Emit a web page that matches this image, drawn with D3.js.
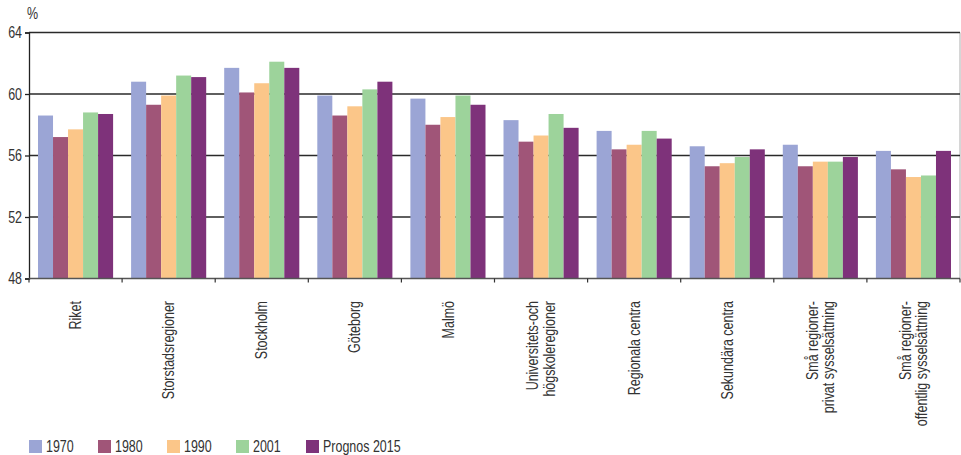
<!DOCTYPE html>
<html>
<head>
<meta charset="utf-8">
<script src="https://cdn.jsdelivr.net/npm/d3@7"></script>
<style>
  html, body { margin: 0; padding: 0; background: #fff; }
  svg text { font-family: "Liberation Sans", Arial, sans-serif; fill: #333; }
</style>
</head>
<body>
<svg id="chart" width="961" height="455"></svg>
<script>
// Regions (each label may be split over several lines)
const categories = [
  ["Riket"],
  ["Storstadsregioner"],
  ["Stockholm"],
  ["Göteborg"],
  ["Malmö"],
  ["Universitets-och", "högskoleregioner"],
  ["Regionala centra"],
  ["Sekundära centra"],
  ["Små regioner-", "privat sysselsättning"],
  ["Små regioner-", "offentlig sysselsättning"]
];
const seriesNames = ["1970", "1980", "1990", "2001", "Prognos 2015"];
const seriesColors = ["#9ba5d5", "#a05578", "#fbc689", "#9dd39b", "#7e327a"];

// Share in percent, one array per series, in category order
const v1970 = [58.6, 60.8, 61.7, 59.9, 59.7, 58.3, 57.6, 56.6, 56.7, 56.3];
const v1980 = [57.2, 59.3, 60.1, 58.6, 58.0, 56.9, 56.4, 55.3, 55.3, 55.1];
const v1990 = [57.7, 59.9, 60.7, 59.2, 58.5, 57.3, 56.7, 55.5, 55.6, 54.6];
const v2001 = [58.8, 61.2, 62.1, 60.3, 59.9, 58.7, 57.6, 55.9, 55.6, 54.7];
const v2015 = [58.7, 61.1, 61.7, 60.8, 59.3, 57.8, 57.1, 56.4, 55.9, 56.3];
const seriesValues = [v1970, v1980, v1990, v2001, v2015];

const yTicks = [48, 52, 56, 60, 64];

// Condensed look: a regular sans squeezed horizontally
const FS = 16, SQ = 0.78;

const svg = d3.select("#chart");
const plotLeft = 29, plotRight = 960, plotTop = 32.5, plotBottom = 278.5;

const x0 = d3.scaleBand().domain(d3.range(categories.length)).range([plotLeft, plotRight]).paddingInner(0).paddingOuter(0);
const x1 = d3.scaleBand().domain(d3.range(seriesNames.length)).range([9, x0.bandwidth() - 9]).padding(0);
const y = d3.scaleLinear().domain([48, 64]).range([plotBottom, plotTop]);

// Right border
svg.append("line").attr("x1", plotRight).attr("x2", plotRight).attr("y1", plotTop).attr("y2", plotBottom)
  .attr("stroke", "#bbb").attr("stroke-width", 1.2);

// Horizontal grid lines
svg.append("g").selectAll("line").data(yTicks.filter(t => t > 48)).join("line")
  .attr("x1", plotLeft).attr("x2", plotRight)
  .attr("y1", d => y(d)).attr("y2", d => y(d))
  .attr("stroke", "#2a2a2a").attr("stroke-width", 1.6);

// Bars
const groups = svg.append("g").selectAll("g").data(categories).join("g")
  .attr("transform", (d, i) => `translate(${x0(i)},0)`);
groups.selectAll("rect").data((d, i) => seriesValues.map((s, k) => ({ k, v: s[i] }))).join("rect")
  .attr("x", d => x1(d.k))
  .attr("width", x1.bandwidth())
  .attr("y", d => y(d.v))
  .attr("height", d => y(48) - y(d.v))
  .attr("fill", d => seriesColors[d.k]);

// Y axis
const yAxis = svg.append("g").attr("transform", `translate(${plotLeft},0)`)
  .call(d3.axisLeft(y).tickValues(yTicks).tickSize(4).tickPadding(3).tickFormat(d3.format("d")));
yAxis.select(".domain").attr("stroke", "#222").attr("stroke-width", 1.3);
yAxis.selectAll(".tick line").attr("stroke", "#222").attr("stroke-width", 1.3);
yAxis.selectAll(".tick text")
  .attr("font-size", FS).attr("fill", "#333")
  .attr("x", -7 / SQ)
  .attr("transform", `scale(${SQ},1)`)
  .style("font-family", '"Liberation Sans", Arial, sans-serif');

svg.append("text").attr("transform", `translate(27,19) scale(${SQ},1)`).attr("font-size", FS).text("%");

// X axis with ticks at category boundaries
svg.append("line").attr("x1", plotLeft).attr("x2", plotRight).attr("y1", plotBottom).attr("y2", plotBottom)
  .attr("stroke", "#555").attr("stroke-width", 1.5);
svg.append("g").selectAll("line").data(d3.range(categories.length + 1)).join("line")
  .attr("x1", i => plotLeft + i * x0.bandwidth()).attr("x2", i => plotLeft + i * x0.bandwidth())
  .attr("y1", plotBottom).attr("y2", plotBottom + 4)
  .attr("stroke", "#333").attr("stroke-width", 1.2);

// Rotated category labels
const lineGap = 16.5;
const labels = svg.append("g").selectAll("text").data(categories).join("text")
  .attr("transform", (d, i) => `translate(${x0(i) + x0.bandwidth() / 2},301) rotate(-90) scale(${SQ},1)`)
  .attr("text-anchor", "end")
  .attr("font-size", FS);
labels.each(function (lines) {
  const t = d3.select(this);
  const n = lines.length;
  lines.forEach((ln, j) => {
    t.append("tspan").attr("x", 0)
      .attr("y", (j - (n - 1) / 2) * lineGap)
      .attr("dy", "0.35em")
      .text(ln);
  });
});

// Legend
const legendX = [29, 98, 167, 236, 306];
const legend = svg.append("g").selectAll("g").data(seriesNames).join("g")
  .attr("transform", (d, i) => `translate(${legendX[i]},440)`);
legend.append("rect").attr("width", 13).attr("height", 13).attr("fill", (d, i) => seriesColors[i]);
legend.append("text")
  .attr("transform", `translate(17,6.5) scale(${SQ},1)`)
  .attr("dy", "0.36em").attr("font-size", FS).text(d => d);
</script>
</body>
</html>
